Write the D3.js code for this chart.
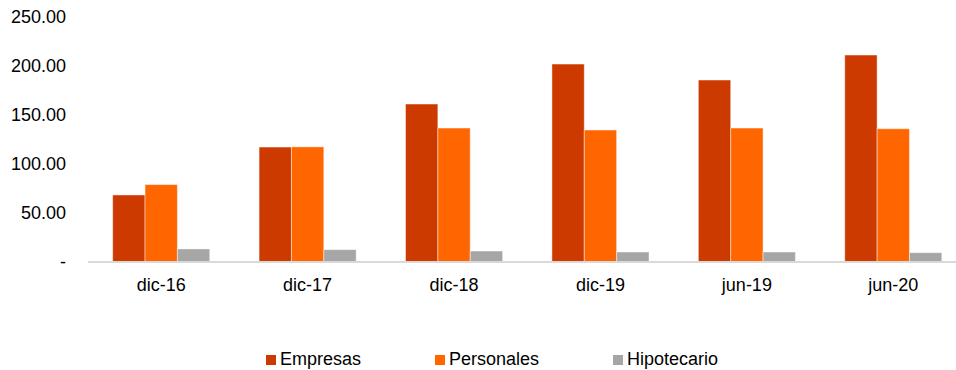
<!DOCTYPE html>
<html>
<head>
<meta charset="utf-8">
<script src="https://cdn.jsdelivr.net/npm/d3@7"></script>
<style>
  html, body { margin: 0; padding: 0; background: #fff; }
  svg { display: block; font-family: "Liberation Sans", Arial, sans-serif; }
</style>
</head>
<body>
<svg id="chart" width="956" height="370"></svg>
<script>
// Periods on the x axis
const categories = ["dic-16", "dic-17", "dic-18", "dic-19", "jun-19", "jun-20"];
// Series values per period
const empresas    = [68.4, 117.3, 161.2, 202.0, 185.7, 211.2];
const personales  = [79.0, 117.5, 136.7, 134.7, 136.7, 136.0];
const hipotecario = [13.3, 12.6, 11.2, 10.2, 10.2, 9.5];
const seriesNames = ["Empresas", "Personales", "Hipotecario"];
const seriesColors = ["#CC3A00", "#FF6600", "#A6A6A6"];
const yTicks = [0, 50, 100, 150, 200, 250];

const seriesData = [empresas, personales, hipotecario];
const FONT = 18;

const svg = d3.select("#chart");

const x = d3.scaleBand()
  .domain(categories)
  .range([88, 966.5])
  .paddingInner(0.337)
  .paddingOuter(0.1685);

const x1 = d3.scaleBand()
  .domain(seriesNames)
  .range([0, x.bandwidth()]);

const y = d3.scaleLinear()
  .domain([0, 250])
  .range([262, 17]);

// Y axis labels (no line, no ticks)
const yAxis = d3.axisLeft(y)
  .tickValues(yTicks)
  .tickSize(0)
  .tickPadding(0)
  .tickFormat(d => d === 0 ? "-" : d3.format(".2f")(d));

const yg = svg.append("g")
  .attr("transform", "translate(66,0)")
  .call(yAxis);
yg.select(".domain").remove();
yg.selectAll("text")
  .attr("font-size", FONT)
  .attr("font-family", "Liberation Sans, Arial, sans-serif")
  .attr("fill", "#000");

// Bars
const groups = svg.append("g")
  .selectAll("g")
  .data(categories)
  .join("g")
  .attr("transform", d => `translate(${x(d)},0)`);

groups.selectAll("rect")
  .data((d, i) => seriesNames.map((s, k) => ({ s, k, v: seriesData[k][i] })))
  .join("rect")
  .attr("x", d => x1(d.s))
  .attr("y", d => y(d.v))
  .attr("width", x1.bandwidth())
  .attr("height", d => y(0) - y(d.v))
  .attr("fill", d => seriesColors[d.k])
  .attr("stroke", "rgba(255,255,255,0.45)")
  .attr("stroke-width", 1);

// Category axis along the baseline
const xAxis = d3.axisBottom(x).tickSize(0).tickPadding(16);
const xg = svg.append("g")
  .attr("transform", `translate(0,${y(0)})`)
  .call(xAxis);
xg.select(".domain")
  .attr("stroke", "#D9D9D9")
  .attr("stroke-width", 2)
  .attr("d", "M88,0H956");
xg.selectAll("text")
  .attr("font-size", FONT)
  .attr("font-family", "Liberation Sans, Arial, sans-serif")
  .attr("fill", "#000");

// Legend
const legendX = [266, 435, 613];
const legend = svg.append("g")
  .selectAll("g")
  .data(seriesNames)
  .join("g")
  .attr("transform", (d, i) => `translate(${legendX[i]},355)`);
legend.append("rect")
  .attr("width", 10)
  .attr("height", 10)
  .attr("fill", (d, i) => seriesColors[i]);
legend.append("text")
  .attr("x", 14)
  .attr("y", 10)
  .attr("font-size", FONT)
  .attr("fill", "#000")
  .text(d => d);
</script>
</body>
</html>
